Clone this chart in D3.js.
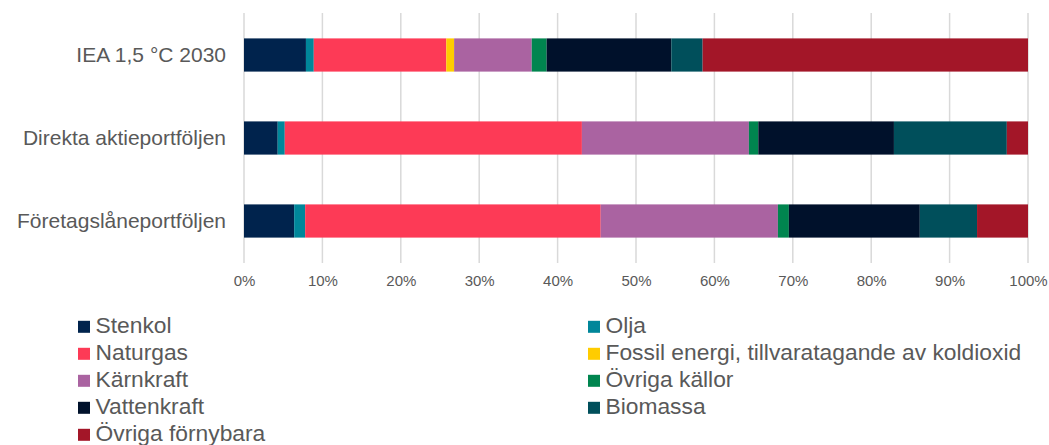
<!DOCTYPE html>
<html><head><meta charset="utf-8">
<script src="https://cdn.jsdelivr.net/npm/d3@7"></script>
<style>body{margin:0;background:#fff;} svg{display:block;font-family:"Liberation Sans",Arial,sans-serif;}</style>
</head><body><svg id="c" width="1049" height="445"></svg>
<script>
const categories = ["IEA 1,5 °C 2030", "Direkta aktieportföljen", "Företagslåneportföljen"];
const seriesNames = ["Stenkol","Olja","Naturgas","Fossil energi, tillvaratagande av koldioxid","Kärnkraft","Övriga källor","Vattenkraft","Biomassa","Övriga förnybara"];
const stenkol = [7.9, 4.3, 6.4];
const olja = [1.0, 0.9, 1.4];
const naturgas = [16.9, 37.9, 37.7];
const fossilCCS = [1.0, 0, 0];
const karnkraft = [9.9, 21.3, 22.6];
const ovrigaKallor = [1.9, 1.2, 1.4];
const vattenkraft = [15.9, 17.3, 16.7];
const biomassa = [4.0, 14.4, 7.3];
const ovrigaFornybara = [41.5, 2.7, 6.5];
const tickLabels = ["0%","10%","20%","30%","40%","50%","60%","70%","80%","90%","100%"];
const colors = ["#00234d","#00869a","#fd3a56","#ffcc00","#aa63a1","#00854f","#00112b","#004f5b","#a31628"];

const seriesValues = [stenkol, olja, naturgas, fossilCCS, karnkraft, ovrigaKallor, vattenkraft, biomassa, ovrigaFornybara];
const table = categories.map((c, i) => {
  const row = {cat: c};
  seriesNames.forEach((s, j) => row[s] = seriesValues[j][i]);
  return row;
});
const stacked = d3.stack().keys(seriesNames)(table);

const svg = d3.select("#c");
const x = d3.scaleLinear().domain([0, 100]).range([244, 1028]);
const y = d3.scaleBand().domain(categories).range([13.5, 262.5]).paddingInner(0.6).paddingOuter(0.3);

// gridlines
svg.append("g").selectAll("line").data(d3.range(0, 101, 10)).join("line")
  .attr("x1", d => x(d)).attr("x2", d => x(d))
  .attr("y1", 13).attr("y2", 263)
  .attr("stroke", "#d9d9d9").attr("stroke-width", 1.5);

// bars
svg.append("g").selectAll("g").data(stacked).join("g")
  .attr("fill", (d, i) => colors[i])
  .selectAll("rect").data(d => d).join("rect")
  .attr("x", d => x(d[0]))
  .attr("width", d => Math.max(0, x(d[1]) - x(d[0])))
  .attr("y", d => y(d.data.cat))
  .attr("height", y.bandwidth());

// x axis labels
const xAxis = d3.axisBottom(x).tickValues(d3.range(0, 101, 10)).tickFormat((d, i) => tickLabels[i]).tickSize(0).tickPadding(0);
const gx = svg.append("g").attr("transform", "translate(0,275)").call(xAxis);
gx.select(".domain").remove();
gx.selectAll("text").attr("fill", "#595959").style("font-size", "15px").style("font-family", "Liberation Sans, Arial, sans-serif");

// y axis labels
const yAxis = d3.axisLeft(y).tickSize(0).tickPadding(0);
const gy = svg.append("g").attr("transform", "translate(226,0)").call(yAxis);
gy.select(".domain").remove();
gy.selectAll("text").attr("fill", "#595959").style("font-size", "21px").style("font-family", "Liberation Sans, Arial, sans-serif");

// legend
const leg = svg.append("g");
seriesNames.forEach((name, k) => {
  const col = k % 2, row = Math.floor(k / 2);
  const lx = col === 0 ? 78 : 588;
  const base = 333.3 + row * 27;
  const g = leg.append("g");
  g.append("rect").attr("x", lx).attr("y", base - 12.5).attr("width", 12).attr("height", 12).attr("fill", colors[k]);
  g.append("text").attr("x", lx + 17.5).attr("y", base).attr("fill", "#595959")
    .style("font-size", "22.8px").text(name);
});
</script></body></html>
